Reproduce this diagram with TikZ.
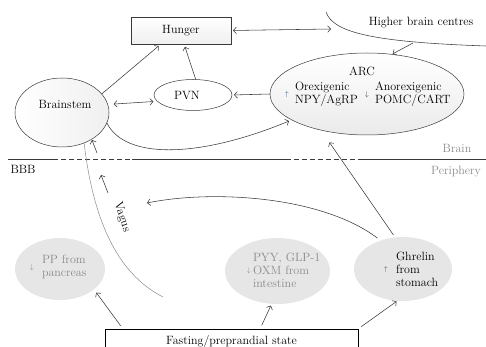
\documentclass[tikz,border=0pt]{standalone}
\usetikzlibrary{arrows.meta,shapes.geometric}
\definecolor{linec}{HTML}{3A3A3A}
\definecolor{graytxt}{HTML}{8A8A8A}
\definecolor{blobfill}{HTML}{E6E6E6}
\definecolor{upblue}{HTML}{35557F}
\begin{document}
\begin{tikzpicture}[x=1pt,y=-1pt,
  every node/.style={font=\fontsize{12}{13}\selectfont, inner sep=0pt, outer sep=0pt},
  conn/.style={draw=linec, line width=0.55pt},
  arr/.style={conn, -{Straight Barb[length=3pt,width=6.5pt]}},
  darr/.style={conn, {Straight Barb[length=3pt,width=6.5pt]}-{Straight Barb[length=3pt,width=6.5pt]}},
  vagusline/.style={draw=graytxt, line width=0.5pt},
  oval/.style={ellipse, draw=linec, line width=0.5pt},
  blob/.style={ellipse, fill=blobfill, draw=none},
  gtxt/.style={text=graytxt, align=left},
  btxt/.style={align=left},
  glyph/.style={font=\scriptsize},
]
\useasboundingbox (0,0) rectangle (486,347);

% ---- shapes
\node[oval, minimum width=94pt, minimum height=69pt, left color=white, right color=gray!12] (bs) at (62,112.5) {};
\node[oval, minimum width=78pt, minimum height=31pt, fill=white] (pvn) at (193,95) {};
\node[oval, minimum width=194pt, minimum height=82pt, top color=white, bottom color=gray!16] (arc) at (367,94) {};
\node[draw=linec, line width=0.6pt, top color=white, bottom color=gray!12, minimum width=100pt, minimum height=27pt] (hunger) at (181,30.5) {Hunger};
\node[blob, minimum width=90pt, minimum height=62pt] (pp) at (60,269) {};
\node[blob, minimum width=105pt, minimum height=66pt] (pyy) at (277.5,271) {};
\node[blob, minimum width=98pt, minimum height=64pt] (ghr) at (403,269) {};
\node[draw=black, line width=0.6pt, fill=white, minimum width=253pt, minimum height=24pt] (fast) at (231.5,341) {Fasting/preprandial state};

% ---- texts
\node (bstxt) at (65,104) {Brainstem};
\node (pvntxt) at (187,96) {PVN};
\node (arctxt) at (362,71) {ARC};
\node[glyph, text=upblue] (orexup) at (287,95) {$\uparrow$};
\node[btxt, anchor=west] (orex) at (295,94.5) {Orexigenic\\NPY/AgRP};
\node[glyph, text=linec] (anorexdn) at (367,95) {$\downarrow$};
\node[btxt, anchor=west] (anorex) at (375,94.5) {Anorexigenic\\POMC/CART};
\node (hbctxt) at (421,23) {Higher brain centres};
\node[text=graytxt] (brain) at (457,148) {Brain};
\node[text=graytxt] (periph) at (456,172) {Periphery};
\node (bbb) at (23,169) {BBB};
\node[rotate=-72] (vagus) at (122,217) {Vagus};
\node[glyph, text=graytxt] (ppdn) at (32,268) {$\downarrow$};
\node[gtxt, anchor=west] (pptxt) at (42,267) {PP from\\pancreas};
\node[glyph, text=graytxt] (pyydn) at (249,271) {$\downarrow$};
\node[gtxt, anchor=west] (pyytxt) at (253,270) {PYY, GLP-1\\OXM from\\intestine};
\node[glyph, text=upblue] (ghrup) at (386,270) {$\uparrow$};
\node[btxt, anchor=west] (ghrtxt) at (396,269) {Ghrelin\\from\\stomach};

% ---- higher brain centres boundary
\draw[conn] (326,12) .. controls (333,32) and (370,42) .. (486,46);
\coordinate (hbcin) at (331,29);
\coordinate (hbcout) at (413,43);

% ---- brain / periphery line
\draw[linec, line width=0.7pt] (8,159) -- (53,159) (132,159) -- (286,159) (358,159) -- (486,159);
\draw[linec, line width=0.7pt, dash pattern=on 5pt off 3pt] (53,159) -- (132,159) (286,159) -- (358,159);

% ---- connectors
\draw[arr, shorten >=3pt] (bs.25) -- ([xshift=-20pt]hunger.south);
\draw[arr, shorten >=3pt] (pvn.80) -- ([xshift=3pt]hunger.south);
\draw[darr, shorten <=6pt, shorten >=4pt] (bs.10) -- (pvn.190);
\draw[arr, shorten >=2pt] (arc.west) -- (pvn.east);
\draw[arr, shorten >=3pt] (bs.-13) .. controls (125,160) and (200,158) .. (arc.199.5);
\draw[darr, shorten <=2pt] (hunger.east) -- (hbcin);
\draw[arr, shorten >=1pt] (hbcout) -- (arc.58);
\draw[arr, shorten <=3pt, shorten >=15pt] (ghr.104) -- (arc.218.7);
\coordinate (gv) at (147,203);
\draw[arr, shorten <=4pt] (ghr.128) .. controls (320,195) and (210,190) .. (gv);

% ---- vagus
\coordinate (vend) at (163,297);
\draw[vagusline] (bs.-54) .. controls (93,218) and (116,273) .. (vend);
\coordinate (va1s) at (97,153);
\coordinate (va1e) at (92,140);
\coordinate (va2s) at (108,193);
\coordinate (va2e) at (101,175);
\draw[arr] (va1s) -- (va1e);
\draw[arr] (va2s) -- (va2e);

% ---- from fasting state
\draw[arr, shorten <=4pt, shorten >=4pt] ([xshift=-108.5pt]fast.north) -- (pp.-31);
\draw[arr, shorten <=4pt, shorten >=2pt] ([xshift=28.5pt]fast.north) -- (pyy.-100);
\draw[arr, shorten <=4pt, shorten >=1pt] (fast.north east) -- (ghr.-100);
\end{tikzpicture}
\end{document}
